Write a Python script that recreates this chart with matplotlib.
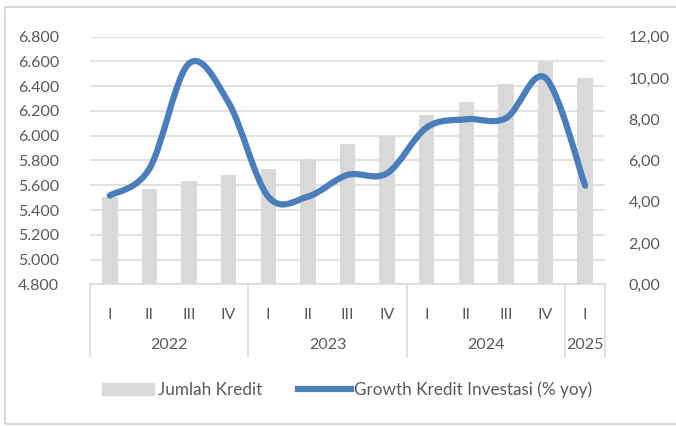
import numpy as np
import matplotlib.pyplot as plt
from matplotlib.path import Path
from matplotlib.patches import PathPatch, Patch, Rectangle
from matplotlib.lines import Line2D
from matplotlib.ticker import FuncFormatter

plt.rcParams['font.family'] = ['Lato', 'DejaVu Sans']

quarters = ["I", "II", "III", "IV", "I", "II", "III", "IV", "I", "II", "III", "IV", "I"]
years = ["2022", "2023", "2024", "2025"]
year_len = [4, 4, 4, 1]
jumlah_kredit = [5507, 5572, 5637, 5685, 5734, 5810, 5933, 5998, 6170, 6273, 6414, 6600, 6466]
growth = [4.3, 5.6, 10.7, 8.8, 4.25, 4.25, 5.3, 5.38, 7.6, 8.0, 8.05, 10.0, 4.78]

bar_c = '#D9D9D9'
line_c = '#4A7EBB'
txt_c = '#595959'
grid_c = '#D9D9D9'


def smooth_path(xs, ys):
    # excel style smoothed line: bezier with neighbour based control points
    pts = np.column_stack([xs, ys]).astype(float)
    n = len(pts)
    verts = [pts[0]]
    codes = [Path.MOVETO]
    for i in range(n - 1):
        p0 = pts[max(i - 1, 0)]
        p1 = pts[i]
        p2 = pts[i + 1]
        p3 = pts[min(i + 2, n - 1)]
        c1 = p1 + (p2 - p0) / 6.0
        c2 = p2 - (p3 - p1) / 6.0
        verts += [c1, c2, p2]
        codes += [Path.CURVE4] * 3
    return Path(verts, codes)


fig = plt.figure(figsize=(6.76, 4.26), dpi=100)
ax = fig.add_axes([0.1331, 0.3326, 0.7618, 0.5813])
x = np.arange(len(quarters))

ax.bar(x, jumlah_kredit, width=0.39, color=bar_c, zorder=2)
ax.set_ylim(4800, 6800)
ax.set_yticks(np.arange(4800, 6801, 200))
ax.yaxis.set_major_formatter(FuncFormatter(lambda v, p: "{:,.0f}".format(v).replace(",", ".")))
ax.set_xlim(-0.5, len(quarters) - 0.5)
ax.grid(axis='y', color=grid_c, lw=1.1, zorder=0)
ax.set_axisbelow(True)
for s in ['top', 'left', 'right']:
    ax.spines[s].set_visible(False)
ax.spines['bottom'].set_color(grid_c)
ax.spines['bottom'].set_linewidth(1.1)
ax.tick_params(axis='y', length=0, pad=22, labelsize=11.5, labelcolor=txt_c)
ax.set_xticks(x)
ax.set_xticklabels(quarters)
ax.tick_params(axis='x', length=0, pad=17, labelsize=11.5, labelcolor=txt_c)

# year groups under quarter labels
trans = ax.get_xaxis_transform()
start = -0.5
ax.plot([start, start], [0, -0.294], color=grid_c, lw=1.1, transform=trans, clip_on=False)
for yr, ln in zip(years, year_len):
    end = start + ln
    ax.plot([end, end], [0, -0.294], color=grid_c, lw=1.1, transform=trans, clip_on=False)
    ax.text((start + end) / 2, -0.245, yr, transform=trans, ha='center', va='center',
            fontsize=11.5, color=txt_c)
    start = end

ax2 = ax.twinx()
ax2.set_ylim(0, 12)
ax2.set_yticks(np.arange(0, 12.1, 2))
ax2.yaxis.set_major_formatter(FuncFormatter(lambda v, p: "{:.2f}".format(v).replace(".", ",")))
for s in ax2.spines.values():
    s.set_visible(False)
ax2.tick_params(axis='y', length=0, pad=17, labelsize=11.5, labelcolor=txt_c)
ax2.add_patch(PathPatch(smooth_path(x, growth), fill=False, edgecolor=line_c, lw=4.5,
                        capstyle='round', joinstyle='round', zorder=3))

handles = [Patch(color=bar_c), Line2D([], [], color=line_c, lw=4.5)]
fig.legend(handles, ["Jumlah Kredit", "Growth Kredit Investasi (% yoy)"], ncol=2,
           loc='center', bbox_to_anchor=(0.514, 0.085), frameon=False, fontsize=12.3,
           labelcolor=txt_c, handlelength=3.05, handleheight=0.65, handletextpad=0.23,
           columnspacing=2.1)

fig.patches.append(Rectangle((5 / 676, 2 / 426), 1.0, 417 / 426, transform=fig.transFigure,
                             fill=False, edgecolor=grid_c, lw=1.5))

fig.savefig("out.png", dpi=100)
